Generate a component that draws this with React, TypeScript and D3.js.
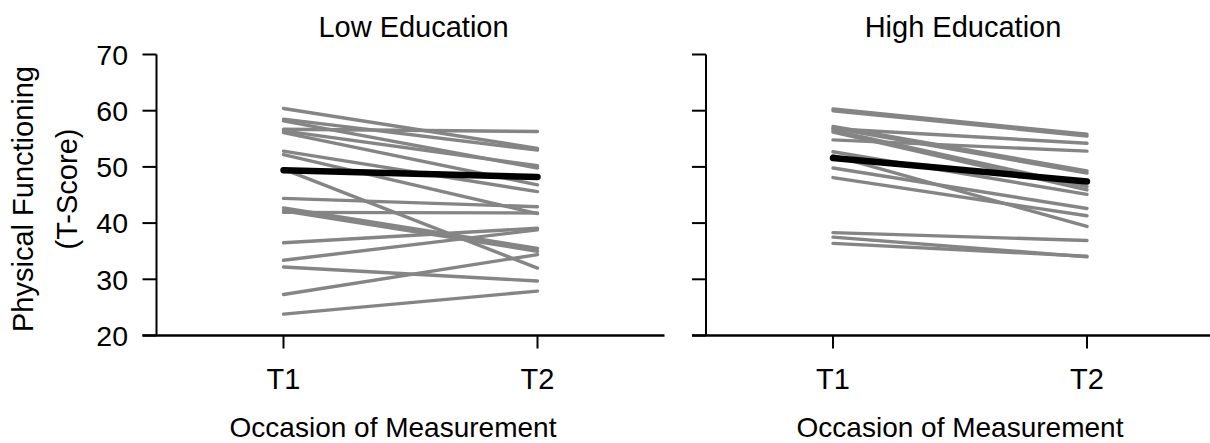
import React from 'react';
import * as d3 from 'd3';

// occasions on the x axis
const occasions = ['T1', 'T2'];
const yTicks = [20, 30, 40, 50, 60, 70];

// Low education: individual trajectories (T1, T2)
const lowT1 = [60.4, 58.5, 58.2, 56.7, 56.4, 56.1, 52.8, 52.2, 49.6, 44.4, 42.7, 42.2, 41.9, 36.5, 33.4, 32.2, 27.3, 23.8];
const lowT2 = [53.3, 53.0, 49.8, 56.3, 50.2, 46.8, 45.6, 41.7, 32.0, 42.9, 35.5, 35.0, 41.8, 39.1, 38.8, 29.7, 34.4, 27.9];
const lowMean = [49.4, 48.2];

// High education: individual trajectories (T1, T2)
const highT1 = [60.3, 60.0, 57.2, 56.9, 56.8, 56.5, 56.2, 54.8, 52.7, 52.0, 49.8, 48.1, 38.3, 37.5, 36.4];
const highT2 = [55.8, 55.5, 49.3, 48.9, 54.2, 46.5, 45.9, 52.8, 45.1, 39.4, 42.6, 41.3, 36.9, 34.0, 34.1];
const highMean = [51.6, 47.4];

const panels = [
  { title: 'Low Education', t1: lowT1, t2: lowT2, mean: lowMean, x0: 156.5, showLabels: true, xTitle: 393 },
  { title: 'High Education', t1: highT1, t2: highT2, mean: highMean, x0: 706, showLabels: false, xTitle: 960 },
];

const W = 1210;
const H = 443;
const panelWidth = 508;
const font = 'Arial, "Liberation Sans", Helvetica, sans-serif';

const yScale = d3.scaleLinear().domain([20, 70]).range([335.5, 54.5]);

function Panel({ p }: { p: typeof panels[number] }) {
  const xScale = d3.scaleLinear().domain([0.5, 2.5]).range([p.x0, p.x0 + panelWidth]);
  const line = d3.line<number>()
    .x((_, i) => xScale(i + 1))
    .y((d) => yScale(d));
  const yBase = yScale(20);
  const xEnd = Math.min(p.x0 + panelWidth, W + 5);

  return (
    <g>
      <text x={(p.x0 + xEnd) / 2 + 3} y={36.5} textAnchor="middle" fontSize={29} fontFamily={font}>
        {p.title}
      </text>

      {p.t1.map((v, i) => (
        <path key={i} d={line([v, p.t2[i]]) || ''} fill="none" stroke="#858585" strokeWidth={3.4} strokeLinecap="round" />
      ))}
      <path d={line(p.mean) || ''} fill="none" stroke="#000" strokeWidth={6.5} strokeLinecap="round" />

      {/* y axis */}
      <line x1={p.x0} x2={p.x0} y1={yScale(70)} y2={yBase} stroke="#000" strokeWidth={2} />
      {yTicks.map((t) => (
        <g key={t}>
          <line x1={p.x0 - 14} x2={p.x0} y1={yScale(t)} y2={yScale(t)} stroke="#000" strokeWidth={2} />
          {p.showLabels && (
            <text x={128} y={yScale(t)} dy="0.36em" textAnchor="end" fontSize={28.5} fontFamily={font}>
              {t}
            </text>
          )}
        </g>
      ))}

      {/* x axis */}
      <line x1={p.x0 - 14} x2={p.x0 + panelWidth} y1={yBase} y2={yBase} stroke="#000" strokeWidth={2.5} />
      {occasions.map((o, i) => (
        <g key={o}>
          <line x1={xScale(i + 1)} x2={xScale(i + 1)} y1={yBase} y2={yBase + 13} stroke="#000" strokeWidth={2} />
          <text x={xScale(i + 1)} y={388.5} textAnchor="middle" fontSize={29} fontFamily={font}>
            {o}
          </text>
        </g>
      ))}
      <text x={p.xTitle} y={437} textAnchor="middle" fontSize={28} fontFamily={font}>
        Occasion of Measurement
      </text>
    </g>
  );
}

export default function App() {
  return (
    <svg width={W} height={H} style={{ position: 'absolute', left: 0, top: 0, background: '#fff' }}>
      <rect width={W} height={H} fill="#fff" />
      <text transform="translate(33,199) rotate(-90)" textAnchor="middle" fontSize={29} fontFamily={font}>
        Physical Functioning
      </text>
      <text transform="translate(77,189) rotate(-90)" textAnchor="middle" fontSize={29} fontFamily={font}>
        (T-Score)
      </text>
      {panels.map((p) => (
        <Panel key={p.title} p={p} />
      ))}
    </svg>
  );
}
